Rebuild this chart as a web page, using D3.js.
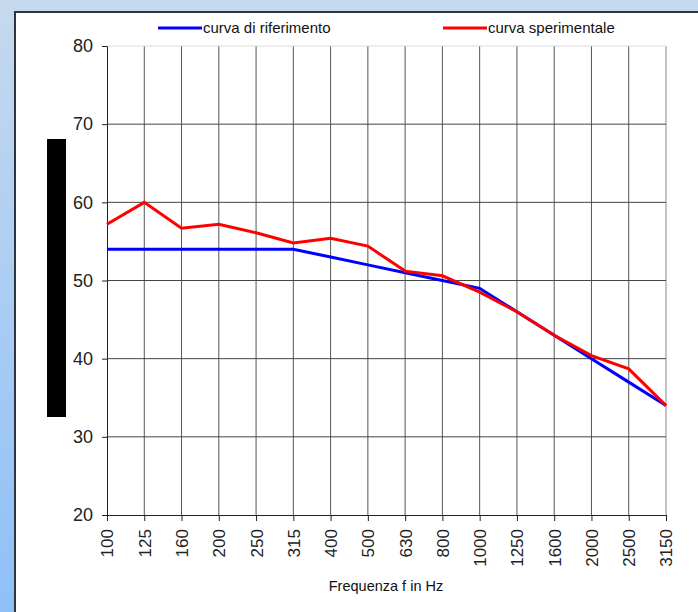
<!DOCTYPE html>
<html>
<head>
<meta charset="utf-8">
<script src="https://cdn.jsdelivr.net/npm/d3@7"></script>
<style>
  body { margin: 0; }
  svg { display: block; font-family: "Liberation Sans", Arial, sans-serif; }
</style>
</head>
<body>
<div id="chart"></div>
<script>
// frequency bands (Hz) and the two curves in dB
const bands = ["100", "125", "160", "200", "250", "315", "400", "500", "630", "800", "1000", "1250", "1600", "2000", "2500", "3150"];
const refCurve = [54, 54, 54, 54, 54, 54, 53, 52, 51, 50, 49, 46, 43, 40, 37, 34];
const expCurve = [57.2, 60, 56.7, 57.2, 56.1, 54.8, 55.4, 54.4, 51.2, 50.6, 48.5, 46, 43, 40.4, 38.7, 34];
const yTicks = [20, 30, 40, 50, 60, 70, 80];
const seriesNames = ["curva di riferimento", "curva sperimentale"];
const seriesColors = ["#0000ff", "#ff0000"];

const svgWidth = 698;
const svgHeight = 612;
const margin = { top: 46, right: 32, bottom: 97, left: 107 };
const width = svgWidth - margin.left - margin.right;
const height = svgHeight - margin.top - margin.bottom;

const svg = d3.select("#chart")
    .append("svg")
    .attr("width", svgWidth)
    .attr("height", svgHeight);

// blue gradient behind the white panel
const grad = svg.append("defs").append("linearGradient")
    .attr("id", "bg").attr("x1", 0).attr("y1", 0).attr("x2", 0).attr("y2", 1);
grad.append("stop").attr("offset", "0%").attr("stop-color", "#c6d9ee");
grad.append("stop").attr("offset", "100%").attr("stop-color", "#8ec0f8");
svg.append("rect").attr("width", svgWidth).attr("height", svgHeight).attr("fill", "url(#bg)");

svg.append("rect")
    .attr("x", 15).attr("y", 12)
    .attr("width", svgWidth).attr("height", svgHeight)
    .attr("fill", "white")
    .attr("stroke", "#2e3440")
    .attr("stroke-width", 2);

const g = svg.append("g")
    .attr("transform", `translate(${margin.left},${margin.top})`);

const x = d3.scalePoint()
    .domain(bands)
    .range([0, width]);

const y = d3.scaleLinear()
    .domain([20, 80])
    .range([height, 0]);

// grid
g.selectAll(".vgrid")
    .data(bands.slice(1))
    .enter()
    .append("line")
    .attr("x1", d => x(d)).attr("x2", d => x(d))
    .attr("y1", 0).attr("y2", height)
    .attr("stroke", (d, i) => i == bands.length - 2 ? "#8a8a8a" : "#555")
    .attr("stroke-width", 1);

g.selectAll(".hgrid")
    .data(yTicks.slice(1))
    .enter()
    .append("line")
    .attr("x1", 0).attr("x2", width)
    .attr("y1", d => y(d)).attr("y2", d => y(d))
    .attr("stroke", d => d == 80 ? "#dddddd" : "#444")
    .attr("stroke-width", 1);

// axes
const yAxis = g.append("g")
    .call(d3.axisLeft(y).tickValues(yTicks).tickSize(5).tickPadding(9));
yAxis.selectAll("text").attr("font-size", "18px").attr("fill", "#222")
    .style("font-family", "Liberation Sans, Arial, sans-serif");

const xAxis = g.append("g")
    .attr("transform", `translate(0,${height})`)
    .call(d3.axisBottom(x).tickSize(6).tickPadding(0));
xAxis.selectAll("text")
    .attr("font-size", "17px").attr("fill", "#222")
    .style("font-family", "Liberation Sans, Arial, sans-serif")
    .attr("transform", "rotate(-90)")
    .attr("text-anchor", "end")
    .attr("dy", "0.35em")
    .attr("x", -14)
    .attr("y", 0);

d3.selectAll(".domain").attr("stroke", "#222");
d3.selectAll(".tick line").attr("stroke", "#222");

// lines
const line = d3.line()
    .x((d, i) => x(bands[i]))
    .y(d => y(d));

[refCurve, expCurve].forEach(function (s, k) {
    g.append("path")
        .datum(s)
        .attr("fill", "none")
        .attr("stroke", seriesColors[k])
        .attr("stroke-width", 3)
        .attr("stroke-linejoin", "miter")
        .attr("d", line);
});

// legend
const legendX = [158, 443];
seriesNames.forEach(function (name, k) {
    svg.append("line")
        .attr("x1", legendX[k]).attr("x2", legendX[k] + 44)
        .attr("y1", 28).attr("y2", 28)
        .attr("stroke", seriesColors[k])
        .attr("stroke-width", 3);
    svg.append("text")
        .text(name)
        .attr("x", legendX[k] + 45)
        .attr("y", 33)
        .attr("font-size", "15px")
        .attr("fill", "#111");
});

// redacted y axis title block
svg.append("rect")
    .attr("x", 47).attr("y", 139)
    .attr("width", 19).attr("height", 278)
    .attr("fill", "black");

svg.append("text")
    .text("Frequenza f in Hz")
    .attr("x", 386)
    .attr("y", 591)
    .attr("text-anchor", "middle")
    .attr("font-size", "14.5px")
    .attr("fill", "#111");
</script>
</body>
</html>
